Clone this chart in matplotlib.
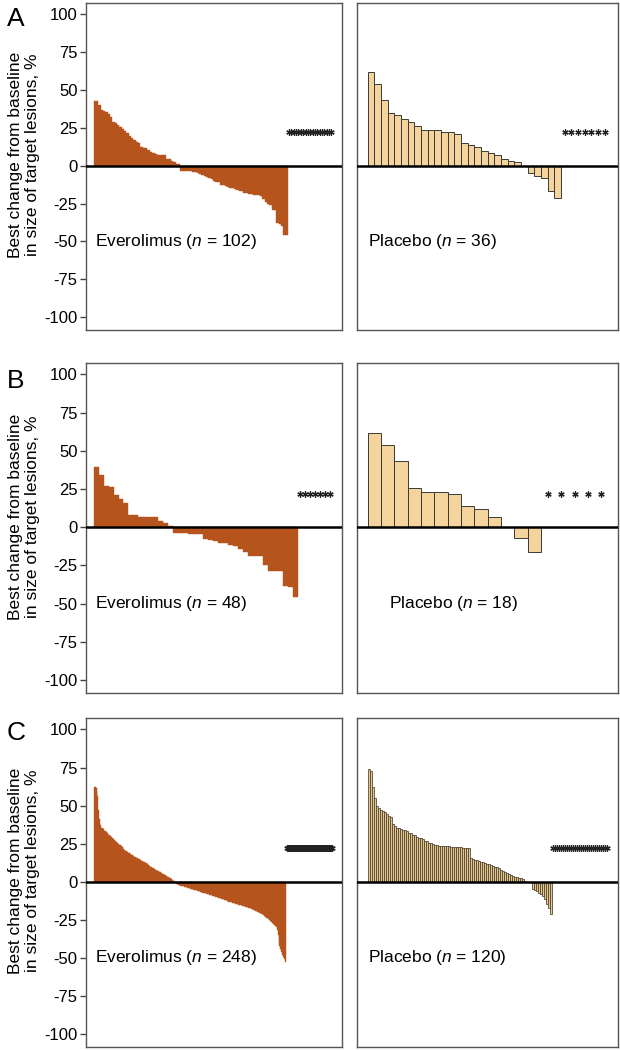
import numpy as np
import matplotlib
matplotlib.use("Agg")
import matplotlib.pyplot as plt

plt.rcParams['font.family'] = ['Liberation Sans', 'DejaVu Sans']
plt.rcParams['mathtext.fontset'] = 'custom'
plt.rcParams['mathtext.it'] = 'Liberation Sans:italic'
plt.rcParams['mathtext.rm'] = 'Liberation Sans'
plt.rcParams['axes.unicode_minus'] = False

# ---------------- data ----------------
panel_letters = ["A", "B", "C"]
yticks = [100, 75, 50, 25, 0, -25, -50, -75, -100]
ytick_labels = ["100", "75", "50", "25", "0", "-25", "-50", "-75", "-100"]
ylabel_text = "Best change from baseline\nin size of target lesions, %"
asterisk_level = 22

evero_A = [43, 43, 40, 37, 36, 35.5, 34, 32, 29, 28,
           27, 25.5, 24, 23, 21.5, 19.5, 18.5, 17, 15.5, 15,
           12.5, 12, 12, 10.5, 9, 8.5, 7.5, 7, 7, 7,
           7, 4.5, 4.5, 3, 2.5, 1.2, 1,
           -3.5, -3.5, -3.5, -3.7, -3.8, -4, -4.2, -4.6, -5.5, -6.2,
           -6.8, -7.5, -8, -8.5, -10, -10.5, -11, -12.5, -13, -13.5,
           -14.3, -14.5, -15, -15.5, -16.3, -16.5, -17, -18, -18.2, -18.5,
           -18.7, -19, -19, -19.2, -20, -22, -24, -25.5, -26, -29,
           -29.5, -38, -38.5, -39.5, -45.5, -45.7]
evero_A_n = 102

placebo_A = [62, 54, 43.7, 35, 33.4, 30.8, 29, 26.2, 23.3, 23.3,
             23.3, 22.4, 22.2, 20.9, 15.2, 13.8, 12.3, 9.5, 8.4, 6.8,
             4.6, 3.3, 2.2, 0, -5, -6.6, -8.4, -16.5, -21.5]
placebo_A_n = 36

evero_B = [39.3, 34.3, 26.9, 26.2, 21.2, 18.6, 15.7, 8.3, 8.0, 7.0,
           6.8, 6.6, 6.5, 4.0, 2.5, 1.0,
           -3.5, -3.7, -3.9, -4.1, -4.3, -4.5, -7.6, -8.5, -9, -10,
           -10.5, -11.5, -12.2, -14, -16.4, -18.6, -18.8, -19, -24.9, -28.4,
           -28.6, -28.8, -38.2, -39, -45.6]
evero_B_n = 48

placebo_B = [61.8, 54.1, 43.4, 26, 23.1, 23.1, 22, 14, 12, 7, 0, -6.8, -16.4]
placebo_B_n = 18

evero_C = [62, 62, 61.5, 59.5, 56, 47, 41, 37, 35.5, 35,
           34.5, 33.5, 33, 32.5, 32, 31, 30.5, 30, 29.5, 28.8,
           28.2, 27.5, 26.8, 26, 25.5, 25, 24.3, 23.8, 23.2, 22.5,
           22, 21.5, 21, 20.5, 20, 19.5, 19, 18.6, 18.2, 17.8,
           17.4, 17, 16.5, 16.1, 15.8, 15.5, 15.2, 14.8, 14.3, 13.9,
           13.5, 13.1, 12.8, 12.4, 12, 11.6, 11.2, 10.8, 10.4, 10,
           9.6, 9.2, 8.8, 8.4, 8, 7.6, 7.2, 6.9, 6.6, 6.2,
           5.8, 5.4, 5, 4.6, 4.2, 3.8, 3.4, 3, 2.6, 2.2,
           1.8, 1.3, 0.8, 0.3,
           -0.5, -1, -1.3, -1.6, -1.9, -2.2, -2.5, -2.7, -2.9, -3.1,
           -3.3, -3.5, -3.7, -3.9, -4.1, -4.3, -4.5, -4.7, -4.9, -5.1,
           -5.3, -5.5, -5.7, -5.9, -6.1, -6.3, -6.5, -6.7, -6.9, -7.1,
           -7.3, -7.5, -7.7, -7.9, -8.1, -8.3, -8.5, -8.7, -8.9, -9.1,
           -9.4, -9.6, -9.8, -10.1, -10.3, -10.5, -10.8, -11, -11.2, -11.4,
           -11.6, -11.9, -12.1, -12.3, -12.6, -12.8, -13, -13.2, -13.4, -13.6,
           -13.8, -14, -14.2, -14.4, -14.6, -14.8, -15, -15.2, -15.4, -15.6,
           -15.8, -16, -16.2, -16.4, -16.6, -16.8, -17, -17.2, -17.4, -17.6,
           -17.8, -18.1, -18.4, -18.7, -19, -19.3, -19.6, -19.9, -20.3, -20.7,
           -21.1, -21.5, -22, -22.5, -23, -23.5, -24, -24.6, -25.2, -25.8,
           -26.4, -27, -27.6, -28.2, -29, -30, -31.5, -35, -39, -42,
           -44, -46, -48, -49.5, -51, -52.5]
evero_C_n = 248

placebo_C = [73.7, 73, 62, 55, 49.6, 48.1, 47, 46.3, 46, 44.2,
             43, 42.5, 38, 36.5, 35.4, 35.2, 34.3, 34, 33.7, 33.5,
             32.1, 31.8, 30.6, 30.4, 29.3, 29, 28.4, 28.2, 26.7, 26.5,
             25.4, 25.2, 24.5, 24.3, 24, 23.6, 23.6, 23.5, 23.4, 23.2,
             23.2, 23.1, 23, 22.8, 22.7, 22.6, 22.5, 22.4, 22.3, 22.2,
             22, 15.5, 15.2, 14.6, 14, 13.6, 13.2, 12.7, 12.4, 11.8,
             11.5, 10.9, 10.5, 10, 9.6, 9, 7.4, 7, 6.5, 5.9,
             5.2, 4.1, 3.8, 3.3, 3.1, 2.6, 2.2, 1.8, 0.8,
             0, 0, 0, -5, -5.5, -6.1, -7.2, -8.3, -9.4, -11.6,
             -14.9, -17, -21.5]
placebo_C_n = 120

rows = [
    (evero_A, evero_A_n, placebo_A, placebo_A_n),
    (evero_B, evero_B_n, placebo_B, placebo_B_n),
    (evero_C, evero_C_n, placebo_C, placebo_C_n),
]

# ---------------- style ----------------
EVERO = '#B5541C'
PLAC_FACE = ['#F4D39C', '#F4D39C', '#E6C78E']
PLAC_EDGE = ['#3a3a3a', '#3a3a3a', '#4a3f2e']
FRAME = '#555555'

fig = plt.figure(figsize=(6.2, 10.5), dpi=100)
W, H = 620, 1050
row_px = [(3, 330), (363, 693), (718, 1047)]
left_px = (86, 342)
right_px = (357, 618)
letter_y = [19, 381, 733]
plac_lw = [0.7, 0.7, 0.55]
plac_text_x = [0.043, 0.123, 0.043]


def make_ax(xp, yp):
    return fig.add_axes([xp[0] / W, 1 - yp[1] / H, (xp[1] - xp[0]) / W, (yp[1] - yp[0]) / H])


def style_frame(ax):
    for s in ax.spines.values():
        s.set_color(FRAME)
        s.set_linewidth(1.0)


for r, (ev, ev_n, pl, pl_n) in enumerate(rows):
    axL = make_ax(left_px, row_px[r])
    axR = make_ax(right_px, row_px[r])

    # Everolimus
    xs = np.arange(len(ev))
    axL.bar(xs, ev, width=1.0, align='edge', color=EVERO, edgecolor=EVERO, linewidth=0.3)
    miss = np.arange(len(ev), ev_n) + 0.5
    axL.plot(miss, np.full(len(miss), asterisk_level), ls='none', marker=(6, 2, 0),
             ms=4.5, mew=0.9, color='#222222')
    axL.axhline(0, color='black', lw=1.8, zorder=3)
    axL.set_xlim(-0.032 * ev_n, 1.04 * ev_n)
    axL.set_ylim(-108.5, 107.5)
    axL.set_xticks([])
    axL.set_yticks(yticks)
    axL.set_yticklabels(ytick_labels)
    axL.tick_params(axis='y', direction='out', length=4, width=1, color='#444444',
                    labelsize=12, pad=2)
    axL.set_ylabel(ylabel_text, fontsize=12.5, linespacing=1.2)
    axL.yaxis.set_label_coords(-0.18, 0.535)
    axL.text(0.035, -50, r'Everolimus ($\it{n}$ = %d)' % ev_n, fontsize=12.5,
             va='center', ha='left', transform=axL.get_yaxis_transform())
    style_frame(axL)

    # Placebo
    xs = np.arange(len(pl))
    axR.bar(xs, pl, width=1.0, align='edge', color=PLAC_FACE[r], edgecolor=PLAC_EDGE[r],
            linewidth=plac_lw[r])
    miss = np.arange(len(pl), pl_n) + 0.5
    axR.plot(miss, np.full(len(miss), asterisk_level), ls='none', marker=(6, 2, 0),
             ms=4.5, mew=0.9, color='#222222')
    axR.axhline(0, color='black', lw=1.8, zorder=3)
    axR.set_xlim(-0.044 * pl_n, 1.042 * pl_n)
    axR.set_ylim(-108.5, 107.5)
    axR.set_xticks([])
    axR.set_yticks([])
    axR.text(plac_text_x[r], -50, r'Placebo ($\it{n}$ = %d)' % pl_n, fontsize=12.5,
             va='center', ha='left', transform=axR.get_yaxis_transform())
    style_frame(axR)

    fig.text(16 / W, 1 - letter_y[r] / H, panel_letters[r], fontsize=19,
             ha='center', va='center')

fig.savefig('out.png', dpi=100)
